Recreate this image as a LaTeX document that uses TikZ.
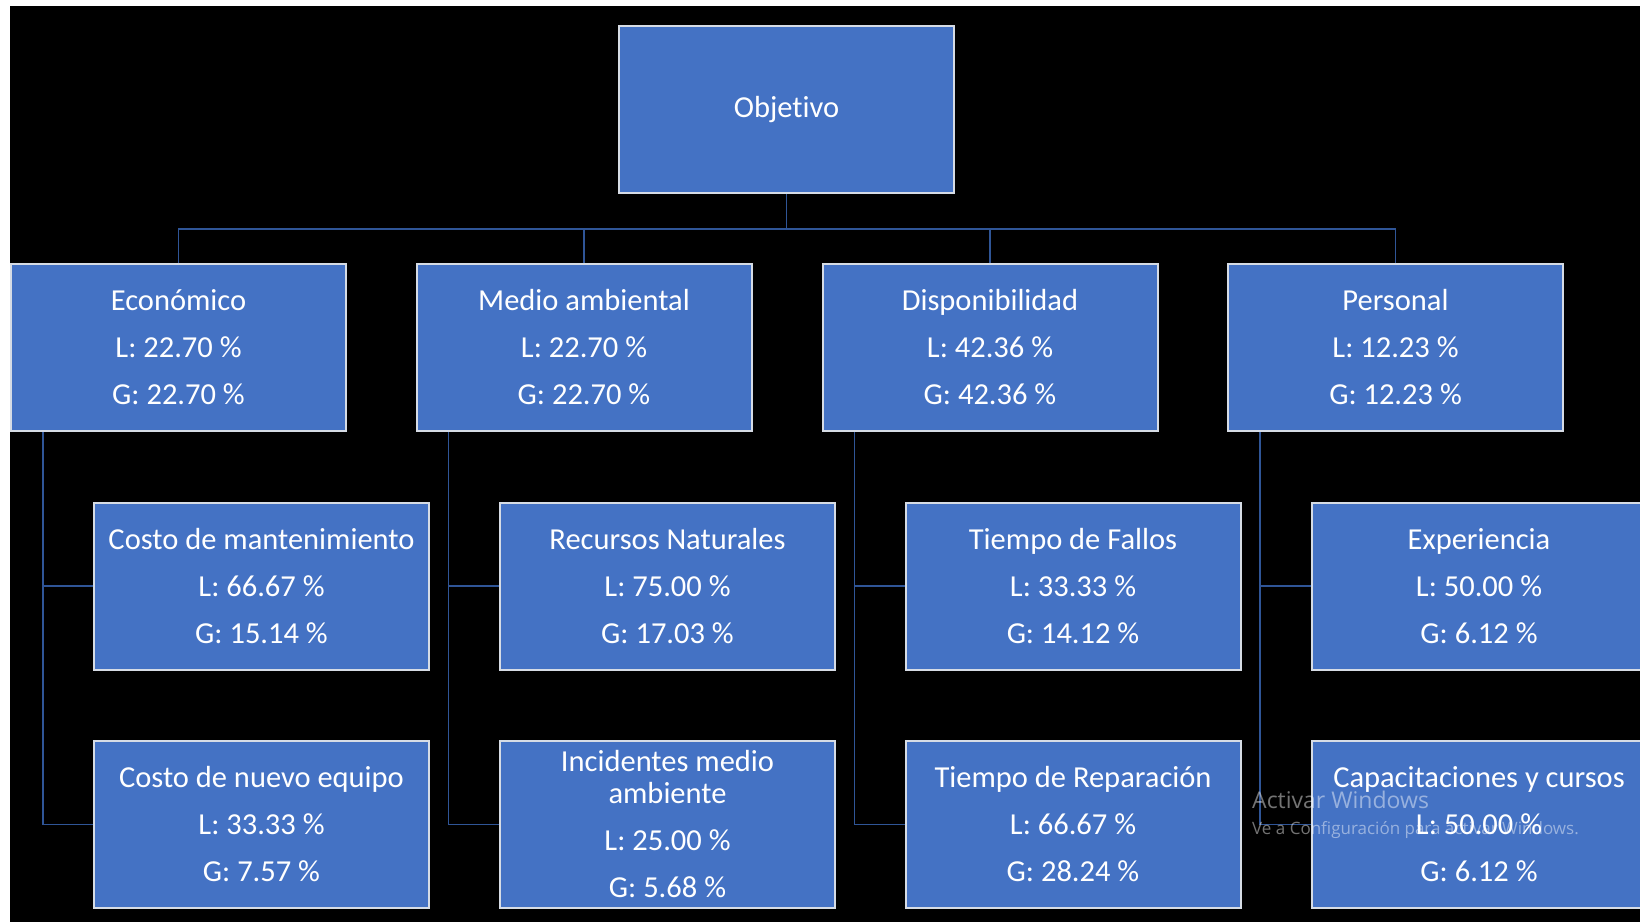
\documentclass[tikz,border=0pt]{standalone}
\usepackage{fontspec}
\setmainfont[Ligatures={NoCommon,NoRare,NoContextual}]{Carlito}
\newfontfamily\wmfont{Open Sans}
\usetikzlibrary{calc}
\definecolor{boxblue}{HTML}{4472C4}
\definecolor{boxline}{HTML}{D6DCE5}
\definecolor{connblue}{HTML}{2F5597}
\tikzset{
  box/.style={rectangle, draw=boxline, line width=2pt, fill=boxblue, text=white,
    minimum width=335pt, minimum height=167pt, inner sep=0pt, align=center,
    font=\fontsize{30.5}{32}\selectfont},
  conn/.style={draw=connblue, line width=1.8pt},
  wm/.style={anchor=base west, inner sep=0pt, text=white, text opacity=0.45}
}
\begin{document}
\begin{tikzpicture}[x=1pt,y=-1pt]
\fill[white] (0,0) rectangle (1640,922);
\fill[black] (10,6) rectangle (1640,922);
\useasboundingbox (0,0) rectangle (1640,922);
\clip (0,0) rectangle (1640,922);

\node[box] (obj) at (786.5,109.5) {Objetivo};

\node[box] (eco) at (178.5,347.5) {Económico\\[15pt]L: 22.70 \%\\[15pt]G: 22.70 \%};
\node[box] (med) at (584,347.5) {Medio ambiental\\[15pt]L: 22.70 \%\\[15pt]G: 22.70 \%};
\node[box] (dis) at (990,347.5) {Disponibilidad\\[15pt]L: 42.36 \%\\[15pt]G: 42.36 \%};
\node[box] (per) at (1395.5,347.5) {Personal\\[15pt]L: 12.23 \%\\[15pt]G: 12.23 \%};

\node[box] (eco1) at (261.5,586) {Costo de mantenimiento\\[15pt]L: 66.67 \%\\[15pt]G: 15.14 \%};
\node[box] (eco2) at (261.5,824.5) {Costo de nuevo equipo\\[15pt]L: 33.33 \%\\[15pt]G: 7.57 \%};
\node[box] (med1) at (667.5,586) {Recursos Naturales\\[15pt]L: 75.00 \%\\[15pt]G: 17.03 \%};
\node[box] (med2) at (667.5,824.5) {Incidentes medio\\ambiente\\[15pt]L: 25.00 \%\\[15pt]G: 5.68 \%};
\node[box] (dis1) at (1073,586) {Tiempo de Fallos\\[15pt]L: 33.33 \%\\[15pt]G: 14.12 \%};
\node[box] (dis2) at (1073,824.5) {Tiempo de Reparación\\[15pt]L: 66.67 \%\\[15pt]G: 28.24 \%};
\node[box] (per1) at (1479,586) {Experiencia\\[15pt]L: 50.00 \%\\[15pt]G: 6.12 \%};
\node[box] (per2) at (1479,824.5) {Capacitaciones y cursos\\[15pt]L: 50.00 \%\\[15pt]G: 6.12 \%};

\coordinate (bus) at (0,229);
\draw[conn] (obj.south) -- (obj.south |- bus);
\draw[conn] (eco.north) -- (eco.north |- bus) -- (per.north |- bus) -- (per.north);
\draw[conn] (med.north) -- (med.north |- bus);
\draw[conn] (dis.north) -- (dis.north |- bus);

\foreach \p in {eco,med,dis,per}{
  \coordinate (\p v) at ($(\p.south west)+(33,0)$);
  \draw[conn] (\p v) |- (\p2.west);
  \draw[conn] (\p v |- \p1.west) -- (\p1.west);
}

\node[wm, font=\fontsize{23}{23}\selectfont\wmfont] (wm1) at (1252,808) {Activar Windows};
\node[wm, font=\fontsize{17}{17}\selectfont\wmfont] (wm2) at (1252,834) {Ve a Configuración para activar Windows.};
\end{tikzpicture}
\end{document}
